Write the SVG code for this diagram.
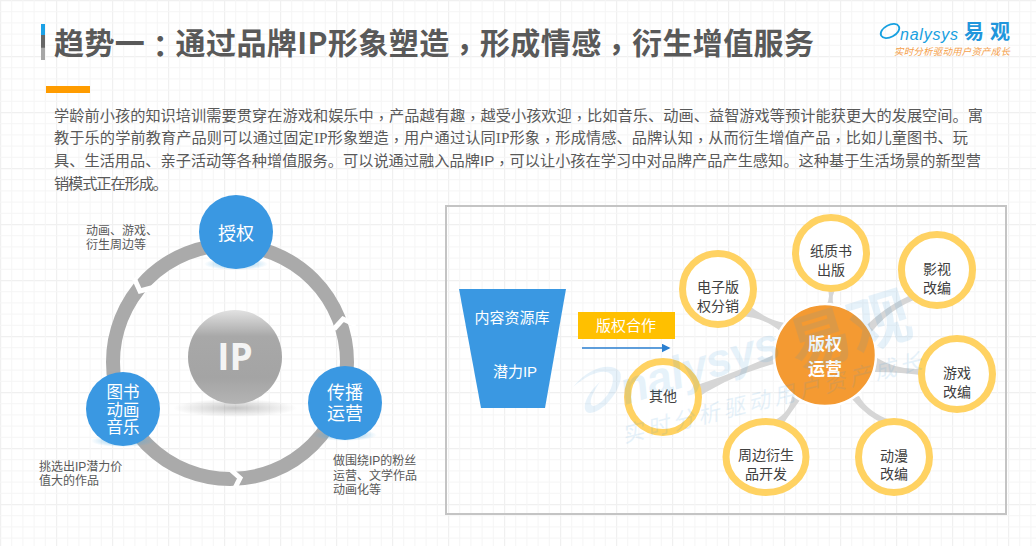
<svg xmlns="http://www.w3.org/2000/svg" width="1036" height="546" viewBox="0 0 1036 546">
<style>
text{font-family:"Liberation Sans","Noto Sans CJK SC",sans-serif}
.cjk{font-family:"Noto Sans CJK SC",sans-serif}
.tc{font-family:"Noto Sans CJK TC",sans-serif}
.body{font-size:15.2px;fill:#595959}
.note{font-size:12px;fill:#595959}
.blue{fill:#3a98e2}
.wh{fill:#fff;text-anchor:middle}
.node{fill:#fff;stroke:#ffd262;stroke-width:7}
.nt{font-size:14px;fill:#404040;text-anchor:middle}
.link{fill:#d6d6d6}
.wm{fill:#3a98d8;opacity:.12}
</style>
<defs>
<pattern id="grid" width="56" height="56" patternUnits="userSpaceOnUse">
<path d="M0 .5H56M.5 0V56" stroke="#f0f0f0" stroke-width="1.4" fill="none"/>
<path d="M0 11.7H56M0 22.9H56M0 34.1H56M0 45.3H56M11.7 0V56M22.9 0V56M34.1 0V56M45.3 0V56" stroke="#f5f5f5" fill="none"/>
</pattern>
<linearGradient id="sph" x1="0" y1="0" x2="0" y2="1">
<stop offset="0" stop-color="#e2e2e2"/><stop offset=".28" stop-color="#a8a8a8"/><stop offset=".72" stop-color="#a4a4a4"/><stop offset="1" stop-color="#b4b4b4"/>
</linearGradient>
<radialGradient id="shad"><stop offset="0" stop-color="#8c8c8c" stop-opacity=".5"/><stop offset="1" stop-color="#8c8c8c" stop-opacity="0"/></radialGradient>
<radialGradient id="glow"><stop offset="0" stop-color="#4aa8e0" stop-opacity=".7"/><stop offset="1" stop-color="#4aa8e0" stop-opacity="0"/></radialGradient>
<linearGradient id="bar" x1="0" y1="0" x2="0" y2="1"><stop offset=".3" stop-color="#1ba1e6"/><stop offset=".31" stop-color="#666"/><stop offset=".65" stop-color="#666"/><stop offset=".66" stop-color="#a6a6a6"/></linearGradient>
<marker id="arr" markerWidth="7" markerHeight="7" refX="5" refY="3" orient="auto"><path d="M0 0L6 3L0 6Z" fill="#2a7fd0"/></marker>
</defs>
<rect width="1036" height="546" fill="#fff"/>
<rect width="1036" height="546" fill="url(#grid)"/>
<rect id="title-bar" x="41" y="24" width="4" height="36" fill="url(#bar)"/>
<text id="title" x="54" y="54" class="cjk" font-size="30" font-weight="700" fill="#595959" textLength="760" lengthAdjust="spacing">趋势一<tspan class="tc" dy="3">：</tspan><tspan dy="-3">通</tspan>过品牌IP形象塑造<tspan class="tc" dy="6">，</tspan><tspan dy="-6">形</tspan>成情感<tspan class="tc" dy="6">，</tspan><tspan dy="-6">衍</tspan>生增值服务</text>
<rect id="accent" x="46" y="86" width="44" height="7" fill="#ff9c00"/>
<g id="logo">
<ellipse cx="890" cy="31" rx="10" ry="6" transform="rotate(-28 890 31)" fill="none" stroke="#17a0e0" stroke-width="1.8"/>
<text x="900" y="40" font-size="16" font-style="italic" fill="#17a0e0" textLength="58">nalysys</text>
<text x="964" y="39" class="cjk" font-size="20" font-weight="700" fill="#2196dc" textLength="46">易观</text>
<text x="894" y="55" class="cjk" font-size="9.5" font-style="italic" fill="#f5a04a" textLength="116">实时分析驱动用户资产成长</text>
</g>
<g id="paragraph" class="body">
<text x="54" y="121" class="body" textLength="929">学龄前小孩的知识培训需要贯穿在游戏和娱乐中<tspan class="tc" dy="3">，</tspan><tspan dy="-3">产</tspan>品越有趣<tspan class="tc" dy="3">，</tspan><tspan dy="-3">越</tspan>受小孩欢迎<tspan class="tc" dy="3">，</tspan><tspan dy="-3">比</tspan>如音乐、动画、益智游戏等预计能获更大的发展空间。寓</text>
<text x="54" y="143" class="body" textLength="914">教于乐的学前教育产品则可以通过固定<tspan font-family="Liberation Serif">IP</tspan>形象塑造<tspan class="tc" dy="3">，</tspan><tspan dy="-3">用</tspan>户通过认同<tspan font-family="Liberation Serif">IP</tspan>形象<tspan class="tc" dy="3">，</tspan><tspan dy="-3">形</tspan>成情感、品牌认知<tspan class="tc" dy="3">，</tspan><tspan dy="-3">从</tspan>而衍生增值产品<tspan class="tc" dy="3">，</tspan><tspan dy="-3">比</tspan>如儿童图书、玩</text>
<text x="54" y="166" class="body" textLength="927">具、生活用品、亲子活动等各种增值服务。可以说通过融入品牌IP<tspan class="tc" dy="3">，</tspan><tspan dy="-3">可</tspan>以让小孩在学习中对品牌产品产生感知。这种基于生活场景的新型营</text>
<text x="54" y="189" class="body" textLength="114">销模式正在形成。</text>
</g>
<g id="cycle-connectors">
<circle cx="230" cy="362" r="117" fill="none" stroke="#aaa" stroke-width="14"/>
<path d="M134 278L140 291L155 287" fill="none" stroke="#fff" stroke-width="5"/>
<path d="M334 329L343 319L356 325" fill="none" stroke="#fff" stroke-width="5"/>
<path d="M231 470L240 478L235 488" fill="none" stroke="#fff" stroke-width="5"/>
</g>
<g id="ip">
<ellipse cx="235" cy="408" rx="62" ry="9" fill="url(#shad)"/>
<circle cx="235" cy="357" r="47" fill="url(#sph)"/>
<text x="235" y="370" class="wh" font-size="37" font-weight="700" style="fill:#f4f4f4;font-family:'Open Sans',sans-serif">IP</text>
</g>
<g id="n-license">
<ellipse cx="236" cy="264" rx="32" ry="6" fill="url(#glow)"/>
<circle cx="236" cy="232" r="37" class="blue"/>
<text x="236" y="240" class="wh" font-size="18">授权</text>
</g>
<g id="n-spread">
<ellipse cx="345" cy="435" rx="32" ry="6" fill="url(#glow)"/>
<circle cx="345" cy="403" r="37" class="blue"/>
<text x="345" y="399" class="wh" font-size="18">传播</text>
<text x="345" y="420" class="wh" font-size="18">运营</text>
</g>
<g id="n-books">
<ellipse cx="123" cy="441" rx="32" ry="6" fill="url(#glow)"/>
<circle cx="123" cy="409" r="37" class="blue"/>
<text x="123" y="398" class="wh" font-size="16.5">图书</text>
<text x="123" y="416" class="wh" font-size="16.5">动画</text>
<text x="123" y="433" class="wh" font-size="16.5">音乐</text>
</g>
<g id="notes">
<text x="86" y="235" class="note">动画、游戏、</text>
<text x="86" y="249" class="note">衍生周边等</text>
<text x="39" y="471" class="note">挑选出IP潜力价</text>
<text x="39" y="485" class="note">值大的作品</text>
<text x="333" y="465" class="note">做围绕IP的粉丝</text>
<text x="333" y="480" class="note">运营、文学作品</text>
<text x="333" y="494" class="note">动画化等</text>
</g>
<rect id="frame" x="446" y="206" width="560" height="308" fill="none" stroke="#c4c4c4" stroke-width="2"/>
<g id="source"><path d="M459 289H566L545 408H481Z" class="blue"/>
<text x="512" y="323" class="wh" font-size="15">内容资源库</text>
<text x="515" y="377" class="wh" font-size="15">潜力IP</text></g>
<g id="cooperation"><rect x="578" y="312" width="97" height="27" fill="#ffc000"/>
<text x="626" y="331" class="wh" font-size="15">版权合作</text></g>
<g id="connectors">
<path d="M582 348H669" stroke="#2a7fd0" stroke-width="1.5" fill="none" marker-end="url(#arr)"/>
<path class="link" d="M746 303Q766 320 785 323L781 332Q766 318 741 316Z"/>
<path class="link" d="M826 286Q832 295 826 306L834 306Q830 295 838 286Z"/>
<path class="link" d="M916 293Q885 305 860 332L867 338Q888 308 920 298Z"/>
<path class="link" d="M928 368Q900 372 877 358L875 372Q900 372 928 376Z"/>
<path class="link" d="M885 424Q868 418 851 398L859 396Q868 412 890 420Z"/>
<path class="link" d="M775 420Q790 412 792 396L800 400Q790 414 783 424Z"/>
<path class="link" d="M680 390Q725 378 780 352L782 362Q730 374 688 404Z"/>
</g>
<g id="n-center"><circle cx="825" cy="355" r="51" fill="#f49a32" stroke="#fff" stroke-width="2.5"/>
<text x="825" y="350" class="wh" font-size="17" font-weight="700">版权</text>
<text x="825" y="375" class="wh" font-size="17" font-weight="700">运营</text></g>
<g id="n-ebook"><circle cx="718" cy="289" r="35.5" class="node"/><text x="718" y="292" class="nt">电子版</text><text x="718" y="311" class="nt">权分销</text></g>
<g id="n-paper"><circle cx="831" cy="253" r="35.5" class="node"/><text x="831" y="256" class="nt">纸质书</text><text x="831" y="275" class="nt">出版</text></g>
<g id="n-film"><circle cx="937" cy="270" r="35.5" class="node"/><text x="937" y="274" class="nt">影视</text><text x="937" y="293" class="nt">改编</text></g>
<g id="n-game"><circle cx="957" cy="374" r="35.5" class="node"/><text x="957" y="378" class="nt">游戏</text><text x="957" y="397" class="nt">改编</text></g>
<g id="n-anime"><circle cx="894" cy="457" r="35.5" class="node"/><text x="894" y="461" class="nt">动漫</text><text x="894" y="479" class="nt">改编</text></g>
<g id="n-merch"><ellipse cx="766" cy="457" rx="40" ry="35.5" class="node"/><text x="766" y="460" class="nt">周边衍生</text><text x="766" y="479" class="nt">品开发</text></g>
<g id="n-other"><circle cx="663" cy="397" r="35.5" class="node"/><text x="663" y="401" class="nt">其他</text></g>
<g id="watermark">
<path d="M573 387C590 366 612 362 620 372C625 385 605 412 590 413C580 412 585 395 600 382C590 396 588 406 594 406C606 402 616 384 612 375C606 368 590 372 573 387Z" class="wm"/>
<text x="625" y="405" class="wm" font-size="46" font-style="italic" font-weight="700" textLength="165" transform="rotate(-17 625 405)">nalysys</text>
<text x="797" y="370" class="wm cjk" font-size="62" font-weight="700" transform="rotate(-17 797 370)">易观</text>
<text x="624" y="443" class="wm cjk" font-size="22" font-style="italic" textLength="308" transform="rotate(-14 624 443)">实时分析驱动用户资产成长</text>
</g>
</svg>
